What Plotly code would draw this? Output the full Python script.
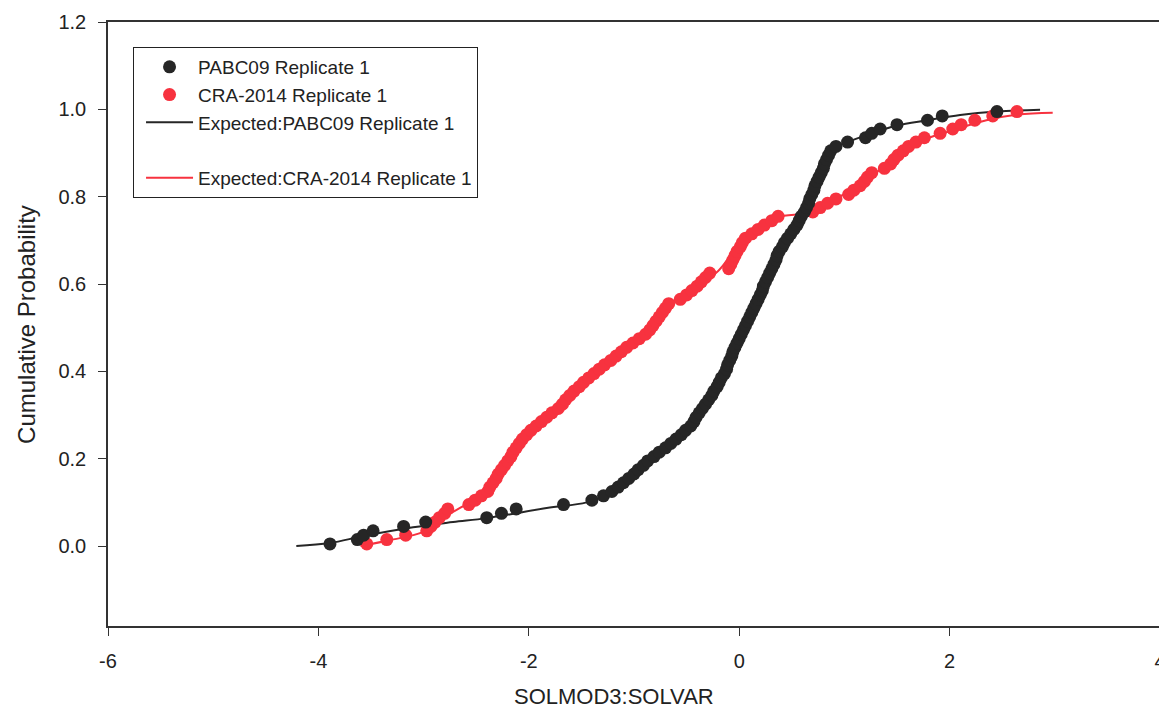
import plotly.graph_objects as go

# cumulative probability of each ranked observation (shared by both replicates)
cum_prob = [
    0.005, 0.015, 0.025, 0.035, 0.045, 0.055, 0.065, 0.075, 0.085, 0.095,
    0.105, 0.115, 0.125, 0.135, 0.145, 0.155, 0.165, 0.175, 0.185, 0.195,
    0.205, 0.215, 0.225, 0.235, 0.245, 0.255, 0.265, 0.275, 0.285, 0.295,
    0.305, 0.315, 0.325, 0.335, 0.345, 0.355, 0.365, 0.375, 0.385, 0.395,
    0.405, 0.415, 0.425, 0.435, 0.445, 0.455, 0.465, 0.475, 0.485, 0.495,
    0.505, 0.515, 0.525, 0.535, 0.545, 0.555, 0.565, 0.575, 0.585, 0.595,
    0.605, 0.615, 0.625, 0.635, 0.645, 0.655, 0.665, 0.675, 0.685, 0.695,
    0.705, 0.715, 0.725, 0.735, 0.745, 0.755, 0.765, 0.775, 0.785, 0.795,
    0.805, 0.815, 0.825, 0.835, 0.845, 0.855, 0.865, 0.875, 0.885, 0.895,
    0.905, 0.915, 0.925, 0.935, 0.945, 0.955, 0.965, 0.975, 0.985, 0.995,
]

pabc09_x = [
    -3.89, -3.63, -3.57, -3.48, -3.19, -2.98, -2.40, -2.26, -2.12, -1.67,
    -1.40, -1.29, -1.21, -1.15, -1.10, -1.05, -1.00, -0.96, -0.91, -0.87,
    -0.81, -0.76, -0.70, -0.65, -0.60, -0.55, -0.51, -0.46, -0.43, -0.41,
    -0.38, -0.35, -0.32, -0.29, -0.26, -0.24, -0.21, -0.19, -0.17, -0.14,
    -0.12, -0.11, -0.09, -0.07, -0.06, -0.04, -0.02, 0.00, 0.02, 0.04,
    0.06, 0.08, 0.10, 0.12, 0.14, 0.16, 0.18, 0.20, 0.22, 0.23,
    0.25, 0.27, 0.29, 0.31, 0.33, 0.35, 0.36, 0.38, 0.41, 0.43,
    0.46, 0.49, 0.52, 0.55, 0.57, 0.59, 0.62, 0.64, 0.66, 0.67,
    0.69, 0.71, 0.72, 0.74, 0.76, 0.78, 0.80, 0.81, 0.83, 0.85,
    0.87, 0.92, 1.03, 1.20, 1.26, 1.34, 1.50, 1.79, 1.93, 2.45,
]

cra2014_x = [
    -3.54, -3.35, -3.17, -2.97, -2.93, -2.89, -2.85, -2.80, -2.77, -2.57,
    -2.51, -2.45, -2.39, -2.37, -2.34, -2.31, -2.29, -2.26, -2.23, -2.20,
    -2.17, -2.15, -2.12, -2.09, -2.06, -2.02, -1.98, -1.93, -1.88, -1.83,
    -1.78, -1.72, -1.68, -1.65, -1.61, -1.57, -1.52, -1.48, -1.43, -1.38,
    -1.33, -1.28, -1.22, -1.17, -1.12, -1.07, -1.01, -0.95, -0.89, -0.85,
    -0.82, -0.79, -0.76, -0.73, -0.70, -0.67, -0.56, -0.50, -0.45, -0.40,
    -0.36, -0.32, -0.28, -0.10, -0.08, -0.06, -0.04, -0.02, 0.01, 0.03,
    0.06, 0.12, 0.18, 0.24, 0.31, 0.37, 0.70, 0.77, 0.84, 0.92,
    1.04, 1.09, 1.15, 1.19, 1.22, 1.26, 1.38, 1.44, 1.47, 1.51,
    1.56, 1.61, 1.68, 1.76, 1.91, 2.03, 2.11, 2.24, 2.41, 2.64,
]

# expected (fitted) curves
exp_pabc09_x = [-4.21, -3.89, -3.57, -3.10, -2.72, -2.40, -1.83, -1.45, -1.23, -1.00,
                -0.70, -0.46, -0.21, 0.00, 0.20, 0.38, 0.55, 0.66, 0.74, 0.83,
                0.90, 1.03, 1.26, 1.50, 1.79, 2.10, 2.45, 2.86]
exp_pabc09_y = [0.000, 0.007, 0.023, 0.043, 0.055, 0.064, 0.087, 0.100, 0.120, 0.165,
                0.225, 0.275, 0.365, 0.475, 0.575, 0.675, 0.735, 0.785, 0.835, 0.885,
                0.910, 0.925, 0.945, 0.963, 0.975, 0.987, 0.995, 0.999]

exp_cra2014_x = [-3.60, -3.35, -3.00, -2.85, -2.60, -2.40, -2.20, -2.00, -1.80, -1.50,
                 -1.25, -0.87, -0.60, -0.40, -0.20, 0.00, 0.20, 0.36, 0.70, 0.90,
                 1.20, 1.50, 1.75, 2.00, 2.35, 2.65, 2.98]
exp_cra2014_y = [0.000, 0.012, 0.033, 0.060, 0.095, 0.125, 0.195, 0.260, 0.300, 0.370,
                 0.420, 0.490, 0.565, 0.595, 0.630, 0.690, 0.730, 0.753, 0.765, 0.793,
                 0.835, 0.895, 0.930, 0.950, 0.975, 0.988, 0.992]

x_ticks = [-6, -4, -2, 0, 2, 4]
x_tick_labels = ['-6', '-4', '-2', '0', '2', '4']
y_ticks = [0.0, 0.2, 0.4, 0.6, 0.8, 1.0, 1.2]
y_tick_labels = ['0.0', '0.2', '0.4', '0.6', '0.8', '1.0', '1.2']

BLACK = '#262626'
RED = '#f7323f'
AXIS = '#333333'
FONT = 'Liberation Sans, Arial, sans-serif'

fig = go.Figure()

fig.add_trace(go.Scatter(x=exp_pabc09_x, y=exp_pabc09_y, mode='lines', line=dict(color=BLACK, width=2, shape='spline'),
                         name='Expected:PABC09 Replicate 1', legendrank=3))
# empty legend row, gives the gap above the last entry
fig.add_trace(go.Scatter(x=[None], y=[None], mode='lines', line=dict(color='rgba(0,0,0,0)', width=2),
                         name=' ', legendrank=4))
fig.add_trace(go.Scatter(x=exp_cra2014_x, y=exp_cra2014_y, mode='lines', line=dict(color=RED, width=2, shape='spline'),
                         name='Expected:CRA-2014 Replicate 1', legendrank=5))
fig.add_trace(go.Scatter(x=cra2014_x, y=cum_prob, mode='markers', marker=dict(color=RED, size=13),
                         name='CRA-2014 Replicate 1', legendrank=2))
fig.add_trace(go.Scatter(x=pabc09_x, y=cum_prob, mode='markers', marker=dict(color=BLACK, size=13),
                         name='PABC09 Replicate 1', legendrank=1))

# the page body adds an 8px margin, so the figure is a bit smaller than the window
fig.update_layout(
    width=1159, height=706,
    margin=dict(l=100, r=7, t=14, b=88),
    paper_bgcolor='white', plot_bgcolor='white',
    font=dict(family=FONT, size=20, color='#222'),
    legend=dict(x=0.0238, y=0.9586, xanchor='left', yanchor='top',
                bordercolor='#222', borderwidth=1, bgcolor='white',
                font=dict(size=19), itemwidth=47, indentation=7, tracegroupgap=0),
    annotations=[
        dict(text='SOLMOD3:SOLVAR', x=0.481, y=-0.1175, xref='paper', yref='paper',
             xanchor='center', yanchor='middle', showarrow=False, font=dict(size=22)),
        dict(text='Cumulative Probability', x=-0.078, y=0.5, xref='paper', yref='paper',
             xanchor='center', yanchor='middle', textangle=-90, showarrow=False, font=dict(size=24)),
    ],
)
fig.update_xaxes(range=[-6, 4], tickvals=x_ticks, ticktext=x_tick_labels, automargin=False,
                 showgrid=False, zeroline=False,
                 showline=True, mirror=True, linecolor=AXIS, linewidth=1.5,
                 ticks='outside', ticklen=8, tickcolor=AXIS, ticklabelstandoff=8)
fig.update_yaxes(range=[-0.183, 1.2], tickvals=y_ticks, ticktext=y_tick_labels, automargin=False,
                 showgrid=False, zeroline=False,
                 showline=True, mirror=True, linecolor=AXIS, linewidth=1.5,
                 ticks='outside', ticklen=8, tickcolor=AXIS, ticklabelstandoff=8)

fig.write_html("out.html")
